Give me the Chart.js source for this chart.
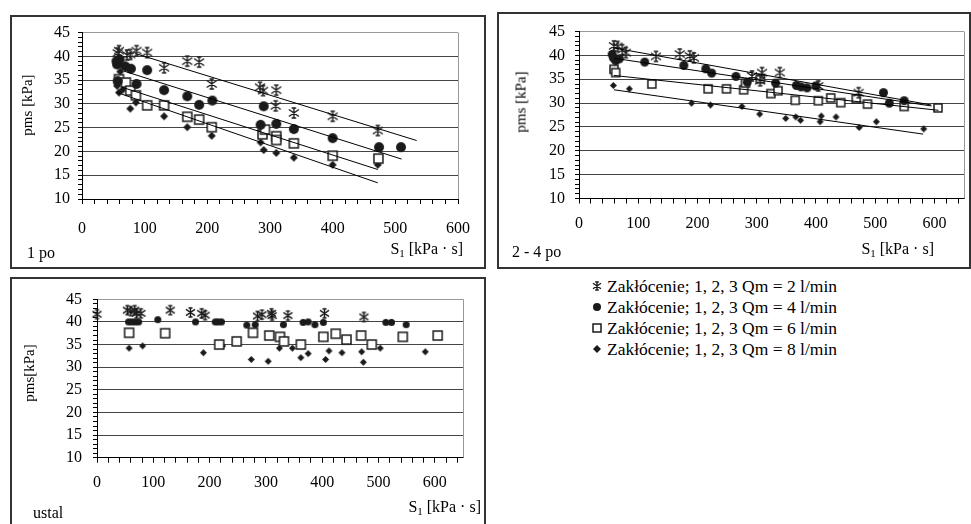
<!DOCTYPE html>
<html><head><meta charset="utf-8">
<script src="https://cdn.jsdelivr.net/npm/chart.js@4.4.0/dist/chart.umd.min.js"></script>
<style>
body{margin:0;width:971px;height:524px;position:relative;overflow:hidden;background:#fff;font-family:"Liberation Serif","Times New Roman",serif;color:#000}
.box{position:absolute;border:2px solid #333;box-sizing:border-box}
canvas.cv{position:absolute}
.t{position:absolute;font-size:16px;white-space:nowrap;line-height:16px}
.yt{position:absolute;font-size:15px;white-space:nowrap;line-height:15px;transform:translate(-50%,-50%) rotate(-90deg)}
.leg{position:absolute;font-size:17.5px;white-space:nowrap;line-height:18px}
.mk{position:absolute}
sub{font-size:11px;vertical-align:-3px;line-height:0}
</style></head><body>
<div class="box" style="left:10px;top:15px;width:476px;height:254px"></div>
<div class="box" style="left:497px;top:12px;width:474px;height:257px"></div>
<div class="box" style="left:10px;top:277px;width:476px;height:260px"></div>
<canvas class="cv" id="c1" width="475" height="253" style="left:10px;top:15px"></canvas>
<canvas class="cv" id="c2" width="473" height="256" style="left:497px;top:12px"></canvas>
<canvas class="cv" id="c3" width="475" height="247" style="left:10px;top:277px"></canvas>

<div class="yt" style="left:27px;top:105px">pms [kPa]</div>
<div class="yt" style="left:521px;top:102px">pms [kPa]</div>
<div class="yt" style="left:29px;top:373px">pms[kPa]</div>
<div class="t" style="right:508px;top:241px">S<sub>1</sub> [kPa · s]</div>
<div class="t" style="right:37px;top:241px">S<sub>1</sub> [kPa · s]</div>
<div class="t" style="right:490px;top:499px">S<sub>1</sub> [kPa · s]</div>
<div class="t" style="left:27px;top:245px">1 po</div>
<div class="t" style="left:512px;top:244px">2 - 4 po</div>
<div class="t" style="left:33px;top:505px">ustal</div>

<div id="legend"></div>

<script>
// ---- data: [S1, pms] pairs ----
const p1Q2 = [[57,40.7],[59,41.2],[72,40.3],[77,40.4],[87,41.2],[104,40.8],[131,37.6],[168,39.0],[187,38.8],[207,34.2],[284,33.5],[289,32.8],[310,32.9],[309,29.6],[338,28.1],[400,27.4],[472,24.4]];
const p1Q4 = [[55,39.0],[56,38.3],[60,39.3],[69,37.9],[78,37.4],[104,37.1],[57,34.8],[87,34.2],[131,32.9],[168,31.6],[187,29.8],[208,30.7],[290,29.5],[285,25.6],[310,25.8],[338,24.7],[400,22.8],[474,20.9],[509,20.9]];
const p1Q6 = [[59,35.2],[70,34.5],[77,32.8],[86,31.8],[104,29.7],[131,29.7],[168,27.3],[187,26.7],[207,25.1],[288,23.6],[292,24.6],[310,23.2],[310,22.4],[338,21.7],[400,19.1],[473,18.5]];
const p1Q8 = [[56,33.8],[59,32.4],[61,36.8],[65,33.0],[77,29.0],[86,30.3],[104,30.0],[131,27.4],[168,25.1],[207,23.3],[285,21.9],[290,20.3],[310,19.7],[338,18.7],[400,17.2],[472,17.2]];
const p1Trend = [[[85,40.6],[534,22.3]],[[67,36.9],[510,18.4]],[[64,33.5],[472,16.2]],[[56,32.4],[472,13.4]]];

const p2Q2 = [[59,42.0],[65,41.9],[73,41.2],[79,40.6],[130,39.8],[170,40.3],[187,39.9],[194,39.5],[292,35.7],[306,34.7],[309,36.4],[339,36.4],[404,33.6],[472,32.2]];
const p2Q4 = [[56,40.2],[58,39.5],[62,38.9],[68,39.3],[111,38.6],[177,37.9],[214,37.2],[224,36.3],[265,35.6],[284,34.4],[332,34.2],[367,33.7],[375,33.4],[385,33.2],[400,33.6],[514,32.2],[524,30.0],[549,30.5]];
const p2Q6 = [[59,37.1],[62,36.4],[123,34.0],[218,33.0],[249,33.0],[278,32.8],[281,34.2],[306,35.1],[324,32.0],[336,32.6],[365,30.6],[404,30.5],[425,31.1],[442,30.1],[468,30.9],[487,29.8],[549,29.3],[606,29.0]];
const p2Q8 = [[58,33.7],[85,33.0],[190,30.0],[222,29.6],[275,29.3],[305,27.7],[349,26.8],[366,27.1],[374,26.4],[409,27.3],[407,26.1],[434,27.1],[473,24.9],[502,26.1],[582,24.6]];
const p2Trend = [[[58,41.6],[595,29.6]],[[60,39.4],[595,29.4]],[[59,35.8],[607,28.5]],[[59,32.8],[581,23.5]]];

const p3Q2 = [[0,41.7],[54,42.6],[60,42.4],[67,42.6],[70,41.9],[78,41.9],[130,42.6],[166,42.1],[186,41.9],[192,41.5],[285,41.3],[293,41.6],[310,41.9],[311,41.4],[339,41.4],[404,41.9],[474,41.1]];
const p3Q4 = [[56,40],[62,40],[68,40],[74,40],[108,40.5],[175,40],[210,40],[215,40],[221,40],[266,39.3],[281,39.4],[331,39.4],[366,39.9],[375,40],[387,39.4],[402,39.9],[513,39.9],[523,39.9],[549,39.4]];
const p3Q6 = [[57,37.6],[121,37.5],[217,35.0],[248,35.7],[277,37.6],[306,37.0],[325,36.7],[332,35.7],[362,35.0],[402,36.7],[424,37.4],[443,36.1],[469,37.0],[488,35.0],[543,36.7],[605,37.0]];
const p3Q8 = [[57,34.2],[81,34.7],[189,33.2],[223,34.7],[274,31.7],[304,31.3],[324,34.2],[347,34.2],[362,32.1],[375,33.0],[406,31.7],[412,33.6],[435,33.2],[470,33.4],[473,31.1],[503,34.2],[583,33.4]];

const seriesNames = ["Zakłócenie; 1, 2, 3 Qm = 2 l/min","Zakłócenie; 1, 2, 3 Qm = 4 l/min","Zakłócenie; 1, 2, 3 Qm = 6 l/min","Zakłócenie; 1, 2, 3 Qm = 8 l/min"];
const yTicks = {min:10, max:45, major:5};
const xTickStep = 20, xLabelStep = 100;

// ---- markers ----
const INK = '#1a1a1a';
function marker(type, s){
  const pad = 2, n = Math.ceil(s + pad*2);
  const c = document.createElement('canvas'); c.width = n; c.height = n;
  const g = c.getContext('2d'); const m = n/2, r = s/2;
  g.strokeStyle = INK; g.fillStyle = INK; g.lineWidth = 1.4;
  if(type==='star'){
    g.beginPath();
    g.moveTo(m, m-r); g.lineTo(m, m+r);
    g.moveTo(m-r, m-r*0.7); g.lineTo(m+r, m+r*0.7);
    g.moveTo(m+r, m-r*0.7); g.lineTo(m-r, m+r*0.7);
    g.moveTo(m-r*0.45, m-r); g.lineTo(m+r*0.45, m-r);
    g.moveTo(m-r*0.45, m+r); g.lineTo(m+r*0.45, m+r);
    g.stroke();
  } else if(type==='circle'){
    g.beginPath(); g.arc(m, m, r, 0, Math.PI*2); g.fill();
  } else if(type==='square'){
    g.fillStyle = '#fff'; g.fillRect(m-r, m-r, s, s);
    g.lineWidth = 1.5; g.strokeRect(m-r, m-r, s, s);
  } else {
    g.beginPath(); g.moveTo(m, m-r); g.lineTo(m+r, m); g.lineTo(m, m+r); g.lineTo(m-r, m); g.closePath(); g.fill();
  }
  return c;
}
const types = ['star','circle','square','diamond'];

const rightBorder = {id:'rb', beforeDatasetsDraw(chart){
  const {ctx, chartArea:a} = chart; ctx.save(); ctx.strokeStyle='#999'; ctx.lineWidth=1;
  const x = Math.round(a.right)+0.5; ctx.beginPath(); ctx.moveTo(x, a.top); ctx.lineTo(x, a.bottom); ctx.stroke(); ctx.restore();
}};

function build(id, series, trends, xmax, sizes, L){
  const font = {family:'"Liberation Serif","Times New Roman",serif', size:16};
  const datasets = [];
  series.forEach((arr,i)=>{
    datasets.push({data: arr.map(([x,y])=>({x,y})), pointStyle: marker(types[i], sizes[i]), pointRadius: sizes[i]/2, showLine:false, clip:false, order:1});
  });
  (trends||[]).forEach(t=>{
    datasets.push({data: t.map(([x,y])=>({x,y})), showLine:true, pointRadius:0, borderColor:'#000', borderWidth:1, clip:false, order:0});
  });
  new Chart(document.getElementById(id), {
    type:'scatter',
    data:{datasets},
    options:{
      responsive:false, animation:false, devicePixelRatio:1,
      plugins:{legend:{display:false}, tooltip:{enabled:false}},
      layout:{padding:{top:L.top, right:L.right, left:0, bottom:0}},
      scales:{
        x:{type:'linear', min:0, max:xmax,
          afterBuildTicks: s => { const t=[]; for(let v=0; v<=xmax; v+=xTickStep) t.push({value:v}); s.ticks=t; },
          ticks:{autoSkip:false, maxRotation:0, padding:L.xPad, color:'#000', font, callback: v => v % xLabelStep === 0 ? String(v) : ''},
          grid:{drawOnChartArea:false, tickLength:5, tickColor:'#000', tickWidth:1},
          border:{color:'#000', width:1},
          afterFit: s => { s.height = L.xH; }
        },
        y:{type:'linear', min:yTicks.min, max:yTicks.max,
          afterBuildTicks: s => { const t=[]; for(let v=yTicks.min; v<=yTicks.max; v++) t.push({value:v}); s.ticks=t; },
          ticks:{autoSkip:false, padding:L.yPad, color:'#000', font, callback: v => v % yTicks.major === 0 ? String(v) : ''},
          grid:{color: c => c.tick && c.tick.value===yTicks.max ? '#999' : (c.tick && c.tick.value % yTicks.major === 0 ? '#444' : 'rgba(0,0,0,0)'), tickColor:'#000', tickLength:4, lineWidth:1},
          border:{color:'#000', width:1},
          afterFit: s => { s.width = L.yW; }
        }
      }
    },
    plugins:[rightBorder]
  });
}

build('c1', [p1Q2,p1Q4,p1Q6,p1Q8], p1Trend, 600, [10,10,9,8], {top:14, right:13, xH:69, yW:72, xPad:15, yPad:8});
build('c2', [p2Q2,p2Q4,p2Q6,p2Q8], p2Trend, 650, [10,9,8,7], {top:15, right:5, xH:69.5, yW:82, xPad:11, yPad:10});
build('c3', [p3Q2,p3Q4,p3Q6,p3Q8], null, 650, [9,7,9,7], {top:22.3, right:22, xH:66.3, yW:87, xPad:10, yPad:11});

// legend
const lg = document.getElementById('legend');
const rowY = [286, 307, 328, 349];
seriesNames.forEach((name,i)=>{
  const mk = marker(types[i], 8); mk.className='mk';
  mk.style.left = (597 - mk.width/2) + 'px'; mk.style.top = (rowY[i] - mk.height/2) + 'px';
  lg.appendChild(mk);
  const d = document.createElement('div'); d.className='leg'; d.textContent = name;
  d.style.left = '607px'; d.style.top = (rowY[i]-9) + 'px';
  lg.appendChild(d);
});
</script>
</body></html>
